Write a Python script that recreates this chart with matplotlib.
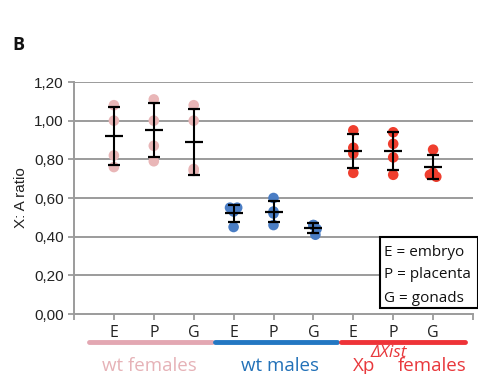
import matplotlib
matplotlib.use("Agg")
import matplotlib.pyplot as plt
from matplotlib.patches import Rectangle
import numpy as np

# ---------------- data ----------------
categories = ['E', 'P', 'G', 'E', 'P', 'G', 'E', 'P', 'G']
groups = ['wt females', 'wt males', 'females']

wtF_E = [1.08, 1.00, 0.82, 0.76]
wtF_P = [1.11, 1.00, 0.87, 0.79]
wtF_G = [1.08, 1.00, 0.75, 0.74]
wtM_E = [0.55, 0.55, 0.53, 0.45]
wtM_P = [0.60, 0.53, 0.52, 0.46]
wtM_G = [0.46, 0.46, 0.44, 0.41]
xp_E = [0.95, 0.86, 0.83, 0.73]
xp_P = [0.94, 0.88, 0.81, 0.72]
xp_G = [0.85, 0.73, 0.72, 0.71]

points = [wtF_E, wtF_P, wtF_G, wtM_E, wtM_P, wtM_G, xp_E, xp_P, xp_G]
jitter = [[0, 0, 0, 0], [0, 0, 0, 0], [0, 0, 0, 0],
          [-0.09, 0.09, 0, 0], [0, 0, 0, 0], [0, 0, 0.08, 0.05],
          [0, 0, 0, 0], [0, 0, 0, 0], [0, 0, -0.08, 0.08]]

means = [0.92, 0.95, 0.89, 0.52, 0.53, 0.445, 0.845, 0.845, 0.76]
sds = [0.15, 0.14, 0.17, 0.043, 0.055, 0.027, 0.088, 0.098, 0.062]

yticks = [0.0, 0.2, 0.4, 0.6, 0.8, 1.0, 1.2]
ytick_labels = ['0,00', '0,20', '0,40', '0,60', '0,80', '1,00', '1,20']

point_colors = ['#E9B6B7'] * 3 + ['#4A7DC4'] * 3 + ['#EF3E2E'] * 3
group_line_colors = ['#E3A7B2', '#2377C2', '#EE3338']
group_text_colors = ['#E6B2B7', '#2271B8', '#E8383C']

# ---------------- figure ----------------
W, H = 478, 374
fig = plt.figure(figsize=(W / 100, H / 100), dpi=100)
ax = fig.add_axes([74 / W, 1 - 314 / H, (473 - 74) / W, (314 - 82) / H])

grid_c = '#9B9B9B'
for y in yticks[1:]:
    ax.axhline(y, color=grid_c, lw=1.4, zorder=1)

xpos = np.arange(1, len(categories) + 1)
for i, (pts, jit) in enumerate(zip(points, jitter)):
    xs = xpos[i] + np.array(jit)
    ax.scatter(xs, pts, s=58, color=point_colors[i], edgecolors='none', zorder=2)

ax.errorbar(xpos, means, yerr=sds, fmt='_', color='black', markersize=13,
            mew=1.6, elinewidth=1.5, capsize=4.5, capthick=1.5, zorder=3)

ax.set_xlim(0, 10)
ax.set_ylim(0, 1.2)
ax.set_yticks(yticks)
ax.set_yticklabels(ytick_labels, family='Liberation Sans', fontsize=11, color='#222222')
ax.set_xticks(np.arange(0, 11))
ax.set_xticklabels([''] + categories + [''], family='Open Sans', fontsize=11.5,
                   color='#222222')
ax.tick_params(axis='both', direction='out', length=4, width=1.3, color=grid_c)
ax.tick_params(axis='x', pad=4)
for s in ['top', 'right']:
    ax.spines[s].set_visible(False)
for s in ['left', 'bottom']:
    ax.spines[s].set_color(grid_c)
    ax.spines[s].set_linewidth(1.4)

ax.set_ylabel('X: A ratio', family='Liberation Sans', fontsize=11, color='#222222',
              labelpad=4)

# group underline bars
trans = ax.get_xaxis_transform()
spans = [(0.38, 3.46), (3.54, 6.6), (6.7, 9.8)]
for (a, b), c in zip(spans, group_line_colors):
    ax.plot([a, b], [-0.121, -0.121], color=c, lw=3.5, solid_capstyle='round',
            transform=trans, clip_on=False)

# group labels
fig.text(149 / W, 1 - 366 / H, groups[0], ha='center', va='center',
         family='Open Sans', fontsize=13.5, color=group_text_colors[0])
fig.text(280 / W, 1 - 366 / H, groups[1], ha='center', va='center',
         family='Open Sans', fontsize=13.5, color=group_text_colors[1])
fig.text(364 / W, 1 - 366 / H, 'Xp', ha='center', va='center',
         family='Open Sans', fontsize=13.5, color=group_text_colors[2])
fig.text(389 / W, 1 - 353 / H, 'ΔXist', ha='center', va='center',
         family='Open Sans', fontsize=12.5, style='italic', color=group_text_colors[2])
fig.text(432 / W, 1 - 366 / H, groups[2], ha='center', va='center',
         family='Open Sans', fontsize=13.5, color=group_text_colors[2])

# legend box
fig.add_artist(Rectangle((380 / W, 1 - 308 / H), 98 / W, 71 / H,
                         transform=fig.transFigure, facecolor='white',
                         edgecolor='black', lw=1.5, zorder=5))
for txt, yy in zip(['E = embryo', 'P = placenta', 'G = gonads'], [252, 275, 298]):
    fig.text(384 / W, 1 - yy / H, txt, ha='left', va='center', family='Open Sans',
             fontsize=11, color='#111111', zorder=6)

fig.text(12 / W, 1 - 45 / H, 'B', ha='left', va='center', family='Open Sans',
         fontsize=13, fontweight='bold', color='#111111')

fig.savefig('out.png', dpi=100)
